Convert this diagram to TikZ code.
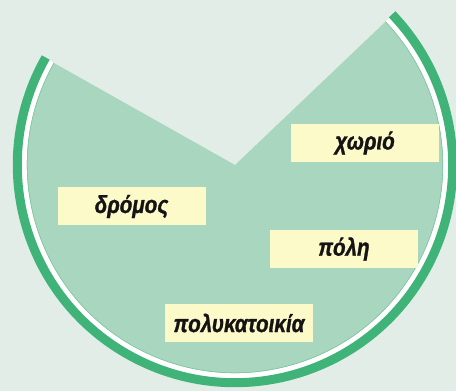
\documentclass[tikz,border=0pt]{standalone}
\usepackage{fontspec}
\usetikzlibrary{calc}
\newfontfamily\lblfont[FakeStretch=0.84, FakeBold=1.2]{Liberation Sans Bold Italic}
\definecolor{bgc}{RGB}{227,237,232}
\definecolor{fillc}{RGB}{168,214,190}
\definecolor{bandc}{RGB}{64,180,120}
\definecolor{edgec}{RGB}{120,196,156}
\definecolor{boxc}{RGB}{253,250,202}
\tikzset{
  lbl/.style={fill=boxc, minimum width=148pt, minimum height=38pt, inner sep=0pt,
    font=\lblfont\fontsize{24.5}{26}\selectfont, text=black!92}
}
\begin{document}
\begin{tikzpicture}[x=1pt,y=1pt]
\clip (0,0) rectangle (456,391);
\fill[bgc] (0,0) rectangle (456,391);
\coordinate (C) at (235,226);
% pie fill
\fill[fillc] (C) -- ($(C)+(150.6:208)$) arc[start angle=150.6, end angle=403.6, radius=208] -- cycle;
% thin edge
\draw[edgec, line width=1pt] ($(C)+(150.6:208)$) arc[start angle=150.6, end angle=403.6, radius=208];
% white ring
\draw[white, line width=5pt] ($(C)+(150.6:210.8)$) arc[start angle=150.6, end angle=403.6, radius=210.8];
% green band
\draw[bandc, line width=9pt] ($(C)+(150.4:217.7)$) arc[start angle=150.4, end angle=403.8, radius=217.7];
% labels
\node[lbl] (chorio) at (365,248) {χωριό};
\node[lbl] (dromos) at (131.5,184.5) {δρόμος};
\node[lbl] (poli) at (344,142) {πόλη};
\node[lbl] (polyk) at (239,68) {πολυκατοικία};
\end{tikzpicture}
\end{document}
